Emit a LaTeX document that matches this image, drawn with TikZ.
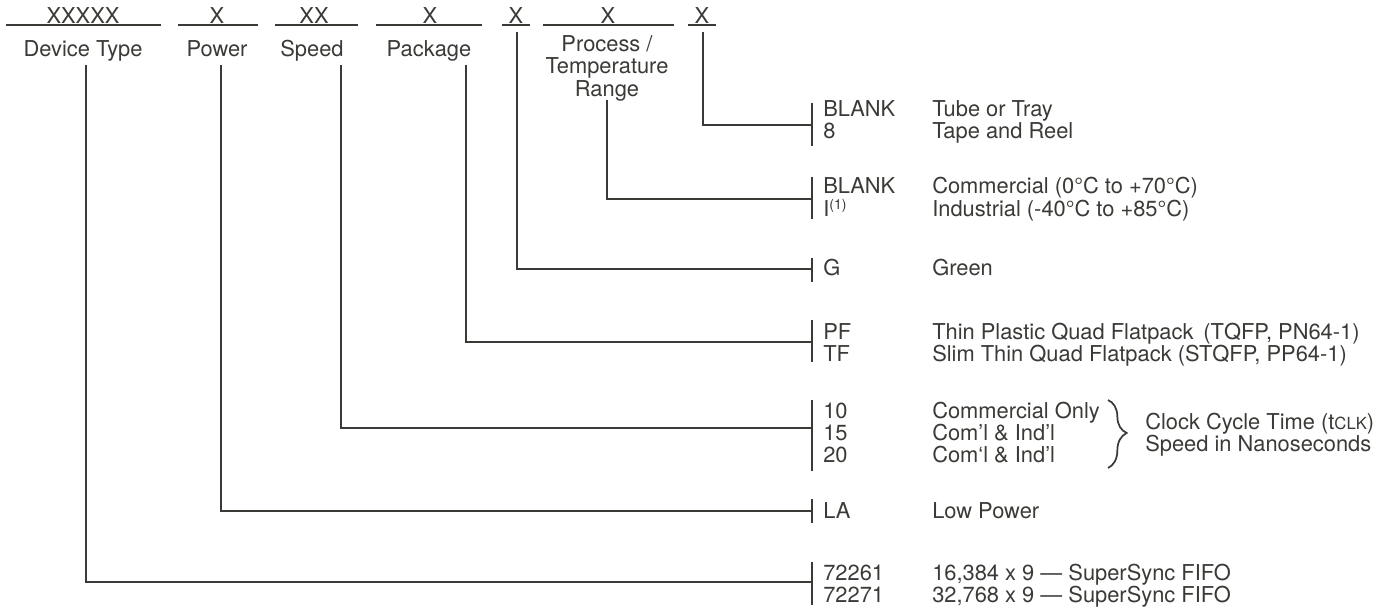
\documentclass[tikz,border=0pt]{standalone}
\usepackage{fontspec}
\setmainfont{TeX Gyre Heros}
\usetikzlibrary{decorations.pathreplacing}
\definecolor{ink}{RGB}{58,58,54}
\begin{document}
\begin{tikzpicture}[x=0.75pt,y=-0.75pt,
  every node/.style={text=ink, font=\fontsize{16.4}{16.5}\selectfont, inner sep=0pt},
  ln/.style={draw=ink, line width=1.4pt},
  hd/.style={anchor=base},
  lbl/.style={anchor=base},
  code/.style={anchor=base west},
  desc/.style={anchor=base west}]
\useasboundingbox (0,0) rectangle (1387,610);

% header fields
\node[hd] (h1) at (83,24) {XXXXX};
\node[hd] (h2) at (217,24) {X};
\node[hd] (h3) at (314,24) {XX};
\node[hd] (h4) at (430,24) {X};
\node[hd] (h5) at (516,24) {X};
\node[hd] (h6) at (608,24) {X};
\node[hd] (h7) at (702,24) {X};
\draw[ln] (6,25) -- (161,25);
\draw[ln] (178,25) -- (258,25);
\draw[ln] (275,25) -- (358,25);
\draw[ln] (376,25) -- (482,25);
\draw[ln] (502,25) -- (530,25);
\draw[ln] (543,25) -- (674,25);
\draw[ln] (688,25) -- (716,25);

% field labels
\node[lbl] (l1) at (83,57) {Device Type};
\node[lbl] (l2) at (217,57) {Power};
\node[lbl] (l3) at (312,57) {Speed};
\node[lbl] (l4) at (429,57) {Package};
\node[lbl] (l6a) at (607,52) {Process /};
\node[lbl] (l6b) at (607,74) {Temperature};
\node[lbl] (l6c) at (607,96) {Range};

% line tops
\coordinate (t1) at (86,65);
\coordinate (t2) at (221,65);
\coordinate (t3) at (341,65);
\coordinate (t4) at (466,65);
\coordinate (t5) at (517,32);
\coordinate (t6) at (607,100);
\coordinate (t7) at (703,32);

% bars (x = 812)
\coordinate (b1t) at (812,103); \coordinate (b1b) at (812,146); \coordinate (m1) at (812,125);
\coordinate (b2t) at (812,177); \coordinate (b2b) at (812,219); \coordinate (m2) at (812,199);
\coordinate (b3t) at (812,258); \coordinate (b3b) at (812,282); \coordinate (m3) at (812,269);
\coordinate (b4t) at (812,320); \coordinate (b4b) at (812,362); \coordinate (m4) at (812,342);
\coordinate (b5t) at (812,400); \coordinate (b5b) at (812,471); \coordinate (m5) at (812,428);
\coordinate (b6t) at (812,499); \coordinate (b6b) at (812,523); \coordinate (m6) at (812,511);
\coordinate (b7t) at (812,562); \coordinate (b7b) at (812,605); \coordinate (m7) at (812,582);
\foreach \i in {1,...,7} {\draw[ln] (b\i t) -- (b\i b);}

% connectors
\draw[ln] (t7) |- (m1);
\draw[ln] (t6) |- (m2);
\draw[ln] (t5) |- (m3);
\draw[ln] (t4) |- (m4);
\draw[ln] (t3) |- (m5);
\draw[ln] (t2) |- (m6);
\draw[ln] (t1) |- (m7);

% codes and descriptions
\node[code] (c1a) at (823,116) {BLANK};
\node[code] (c1b) at (823,138) {8};
\node[desc] (d1a) at (932,116) {Tube or Tray};
\node[desc] (d1b) at (932,138) {Tape and Reel};

\node[code] (c2a) at (823,193) {BLANK};
\node[code] (c2b) at (823,216) {I\raisebox{0.6ex}{\fontsize{10.5}{10.5}\selectfont(1)}};
\node[desc] (d2a) at (932,193) {Commercial (0°C to +70°C)};
\node[desc] (d2b) at (932,216) {Industrial (-40°C to +85°C)};

\node[code] (c3) at (823,275) {G};
\node[desc] (d3) at (932,275) {Green};

\node[code] (c4a) at (823,339) {PF};
\node[code] (c4b) at (823,361) {TF};
\node[desc] (d4a) at (932,339) {Thin Plastic Quad Flatpack\hspace{0.45em}(TQFP, PN64-1)};
\node[desc] (d4b) at (932,361) {Slim Thin Quad Flatpack (STQFP, PP64-1)};

\node[code] (c5a) at (823,418) {10};
\node[code] (c5b) at (823,440) {15};
\node[code] (c5c) at (823,462) {20};
\node[desc] (d5a) at (932,418) {Commercial Only};
\node[desc] (d5b) at (932,440) {Com'l \& Ind'l};
\node[desc] (d5c) at (932,462) {Com‘l \& Ind’l};
\draw[draw=ink, line width=1.3pt, decorate, decoration={brace, amplitude=14pt, aspect=0.485}] (1108,400) -- (1108,468);
\node[desc] (k1) at (1145,429) {Clock Cycle Time (t{\fontsize{12.5}{12.5}\selectfont CLK})};
\node[desc] (k2) at (1145,451) {Speed in Nanoseconds};

\node[code] (c6) at (823,518) {LA};
\node[desc] (d6) at (932,518) {Low Power};

\node[code] (c7a) at (823,580) {72261};
\node[code] (c7b) at (823,602) {72271};
\node[desc] (d7a) at (932,580) {16,384 x 9 — SuperSync FIFO};
\node[desc] (d7b) at (932,602) {32,768 x 9 — SuperSync FIFO};
\end{tikzpicture}
\end{document}
